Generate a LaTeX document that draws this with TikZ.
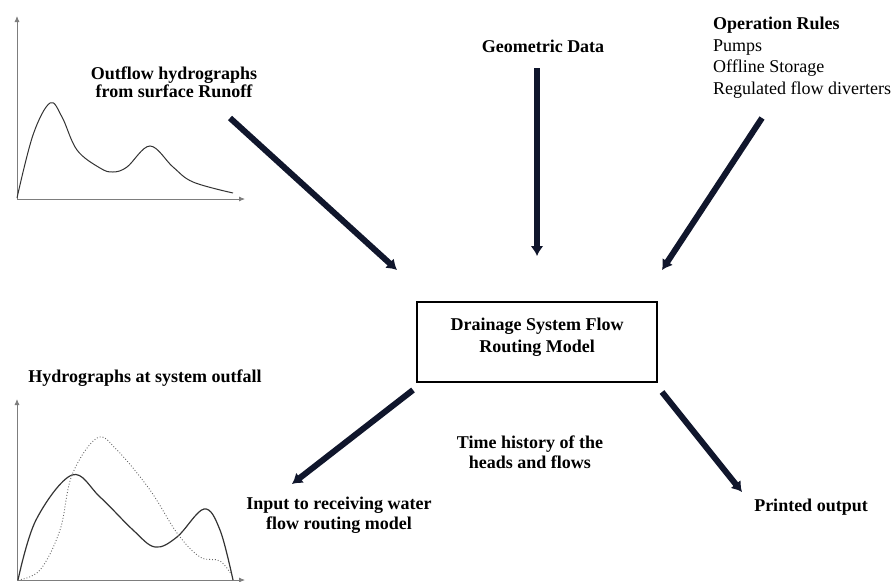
\documentclass[tikz,border=0pt]{standalone}
\usepackage{fontspec}
\setmainfont{Liberation Serif}
\usetikzlibrary{arrows.meta}
\definecolor{arrowblue}{RGB}{16,22,44}
\definecolor{axisgray}{RGB}{125,125,125}

\tikzset{
  lbl/.style={font=\fontsize{18}{20}\selectfont\bfseries, inner sep=0pt, align=center, anchor=base},
  plain/.style={font=\fontsize{18}{21.5}\selectfont, inner sep=0pt, align=left, anchor=base west},
  flow/.style={-{Latex[length=10pt,width=13pt]}, line width=6pt, color=arrowblue},
  axis/.style={-{Latex[length=6pt,width=5pt]}, line width=0.8pt, color=axisgray},
  hydro/.style={line width=1pt, color=black!80},
}

\begin{document}
\begin{tikzpicture}[x=1pt,y=-1pt]
\useasboundingbox (0,0) rectangle (893,581);

% model box
\node[draw, line width=1.2pt, minimum width=240pt, minimum height=80pt, inner sep=0pt] (model) at (537,342) {};
\node[lbl, font=\fontsize{18}{22}\selectfont\bfseries] (modeltext) at (537,352) {Drainage System Flow\\Routing Model};

% labels (base = last line)
\node[lbl, font=\fontsize{18}{15}\selectfont\bfseries] (runoff) at (174,97) {Outflow hydrographs\\from surface Runoff};
\node[lbl] (geometry) at (543,52) {Geometric Data};
\node[plain] (rules) at (713,94) {\textbf{Operation Rules}\\Pumps\\Offline Storage\\Regulated flow diverters};
\node[lbl] (outfall) at (145,382) {Hydrographs at system outfall};
\node[lbl] (history) at (530,468) {Time history of the\\heads and flows};
\node[lbl] (receiving) at (339,529) {Input to receiving water\\flow routing model};
\node[lbl] (printed) at (811,511) {Printed output};

% arrow ends
\coordinate (runoff-a) at (230,118);
\coordinate (runoff-b) at (397,270);
\coordinate (geometry-a) at (537,68);
\coordinate (geometry-b) at (537,256);
\coordinate (rules-a) at (762,118);
\coordinate (rules-b) at (662,270);
\coordinate (receiving-a) at (413,390);
\coordinate (receiving-b) at (292,484);
\coordinate (printed-a) at (662,392);
\coordinate (printed-b) at (742,492);

\draw[flow] (runoff-a) -- (runoff-b);
\draw[flow] (geometry-a) -- (geometry-b);
\draw[flow] (rules-a) -- (rules-b);
\draw[flow] (receiving-a) -- (receiving-b);
\draw[flow] (printed-a) -- (printed-b);

% inflow hydrograph
\draw[axis] (17,199) -- (17,16);
\draw[axis] (17,199) -- (245,199);
\draw[hydro] plot [smooth, tension=0.6] coordinates {(17,198) (33,135) (50,103) (62,117) (77,150) (100,168) (113,172) (127,167) (150,146) (173,167) (193,182) (233,193)};

% outfall hydrographs
\draw[axis] (17,580) -- (17,399);
\draw[axis] (17,580) -- (245,580);
\draw[hydro, line width=1.2pt] plot [smooth, tension=0.6] coordinates {(18,580) (36,520) (72,475) (100,497) (133,530) (155,547) (177,537) (204,509) (220,530) (233,580)};
\draw[dotted, line width=0.9pt, color=black!60] plot [smooth, tension=0.6] coordinates {(18,580) (40,570) (60,530) (72,475) (97,438) (117,450) (150,490) (177,533) (200,557) (220,561) (233,577)};

\end{tikzpicture}
\end{document}
